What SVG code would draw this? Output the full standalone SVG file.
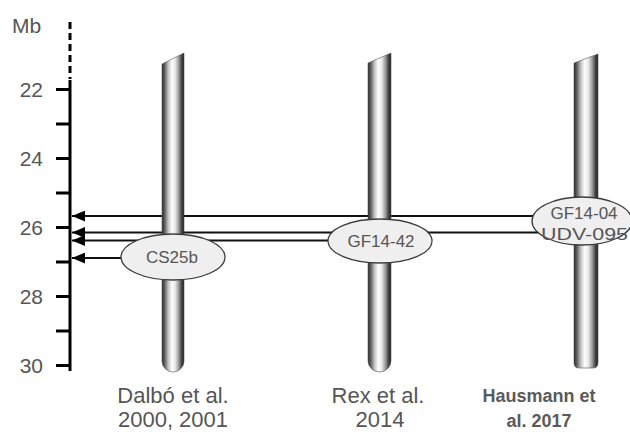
<svg xmlns="http://www.w3.org/2000/svg" width="630" height="432" viewBox="0 0 630 432">
  <style>
    .lbl { font-family: "Liberation Sans", Arial, sans-serif; fill: #565656; }
    .axis-num { font-size: 21px; text-anchor: end; }
    .ref { font-size: 22px; text-anchor: middle; }
    .refb { font-size: 18px; font-weight: bold; text-anchor: middle; fill: #5a5a5a; }
    .marker-txt { font-size: 17px; text-anchor: middle; }
    .axis { stroke: #000; stroke-width: 3; fill: none; }
    .link { stroke: #111; stroke-width: 2; fill: none; marker-end: url(#arrow); }
    .chrom { fill: url(#chromGrad); stroke: #555; stroke-width: 0.6; }
    .locus { fill: #efefef; stroke: #3c3c3c; stroke-width: 1.3; }
  </style>
  <defs>
    <linearGradient id="chromGrad" x1="0" y1="0" x2="1" y2="0">
      <stop offset="0" stop-color="#2a2a2a"/>
      <stop offset="0.12" stop-color="#5e5e5e"/>
      <stop offset="0.28" stop-color="#c0c0c0"/>
      <stop offset="0.45" stop-color="#ffffff"/>
      <stop offset="0.6" stop-color="#e8e8e8"/>
      <stop offset="0.76" stop-color="#9a9a9a"/>
      <stop offset="0.9" stop-color="#404040"/>
      <stop offset="1" stop-color="#222222"/>
    </linearGradient>
    <marker id="arrow" viewBox="0 0 12 10" refX="12" refY="5" markerUnits="userSpaceOnUse" markerWidth="13" markerHeight="11" orient="auto">
      <path d="M0,0 L12,5 L0,10 Z" fill="#000"/>
    </marker>
  </defs>

  <!-- Mb scale -->
  <g id="scale">
    <text class="lbl" x="12" y="33" font-size="21">Mb</text>
    <line class="axis" x1="70" y1="22" x2="70" y2="79" stroke-dasharray="7 4"/>
    <line class="axis" x1="70" y1="80" x2="70" y2="371"/>
    <g class="axis">
      <line x1="56" y1="89.5" x2="70" y2="89.5"/>
      <line x1="56" y1="124" x2="70" y2="124"/>
      <line x1="56" y1="158.5" x2="70" y2="158.5"/>
      <line x1="56" y1="193" x2="70" y2="193"/>
      <line x1="56" y1="227.5" x2="70" y2="227.5"/>
      <line x1="56" y1="262" x2="70" y2="262"/>
      <line x1="56" y1="296.5" x2="70" y2="296.5"/>
      <line x1="56" y1="331" x2="70" y2="331"/>
      <line x1="56" y1="365.5" x2="70" y2="365.5"/>
    </g>
    <text class="lbl axis-num" x="43" y="97">22</text>
    <text class="lbl axis-num" x="43" y="166">24</text>
    <text class="lbl axis-num" x="43" y="235">26</text>
    <text class="lbl axis-num" x="43" y="304">28</text>
    <text class="lbl axis-num" x="43" y="373">30</text>
  </g>

  <!-- marker positions projected onto the scale -->
  <g id="connectors">
    <line class="link" x1="560" y1="216" x2="72" y2="216"/>
    <line class="link" x1="560" y1="232.5" x2="72" y2="232.5"/>
    <line class="link" x1="360" y1="240.5" x2="72" y2="240.5"/>
    <line class="link" x1="150" y1="258" x2="72" y2="258"/>
  </g>

  <!-- chromosome bars -->
  <g id="chrom-dalbo">
    <path class="chrom" d="M162,64 L184,53 L184,361 A11,11 0 0 1 162,361 Z"/>
  </g>
  <g id="chrom-rex">
    <path class="chrom" d="M368,63 L391,53 L391,360.5 A11.5,11.5 0 0 1 368,360.5 Z"/>
  </g>
  <g id="chrom-hausmann">
    <path class="chrom" d="M574,63 L598,54 L598,363 Q598,368 593,368 L579,368 Q574,368 574,363 Z"/>
  </g>

  <!-- loci -->
  <g id="locus-cs25b">
    <ellipse class="locus" cx="173" cy="257" rx="52" ry="23"/>
    <text class="lbl marker-txt" x="172" y="263">CS25b</text>
  </g>
  <g id="locus-gf1442">
    <ellipse class="locus" cx="380" cy="241" rx="52" ry="22"/>
    <text class="lbl marker-txt" x="381" y="247">GF14-42</text>
  </g>
  <g id="locus-gf1404">
    <ellipse class="locus" cx="582" cy="221" rx="50" ry="24"/>
    <text class="lbl marker-txt" x="584" y="218.5">GF14-04</text>
    <text class="lbl" x="541" y="240" font-size="17" textLength="87" lengthAdjust="spacingAndGlyphs">UDV-095</text>
  </g>

  <!-- study labels -->
  <g id="label-dalbo">
    <text class="lbl ref" x="173" y="403">Dalbó et al.</text>
    <text class="lbl ref" x="173" y="427">2000, 2001</text>
  </g>
  <g id="label-rex">
    <text class="lbl ref" x="378" y="403">Rex et al.</text>
    <text class="lbl ref" x="380" y="427">2014</text>
  </g>
  <g id="label-hausmann">
    <text class="lbl refb" x="539" y="402">Hausmann et</text>
    <text class="lbl refb" x="539" y="427">al. 2017</text>
  </g>
</svg>
